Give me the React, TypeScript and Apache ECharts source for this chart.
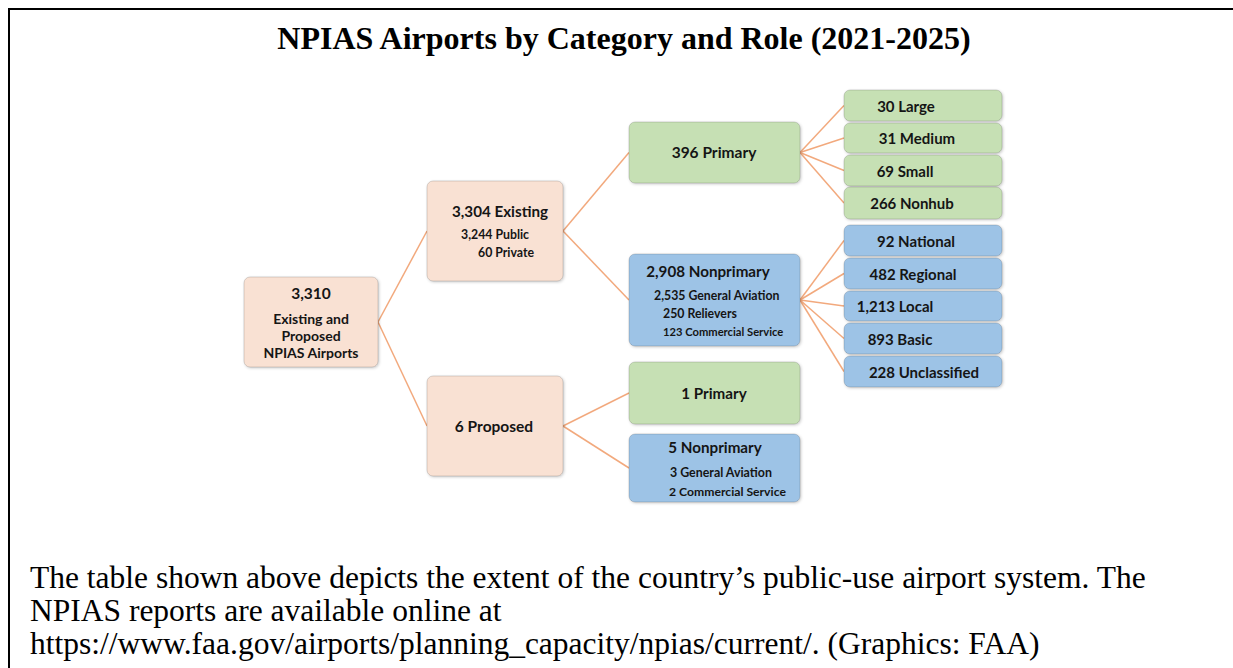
import React, { useEffect, useRef } from 'react';
import * as echarts from 'echarts';

const W = 1233;
const H = 668;

// ---------- data ----------
const titleText = 'NPIAS Airports by Category and Role (2021-2025)';
const captionLines = [
  'The table shown above depicts the extent of the country\u2019s public-use airport system. The',
  'NPIAS reports are available online at',
  'https://www.faa.gov/airports/planning_capacity/npias/current/. (Graphics: FAA)',
];

const nodeIds = [
  'root', 'existing', 'proposed', 'primary', 'nonprimary', 'proposedPrimary', 'proposedNonprimary',
  'large', 'medium', 'small', 'nonhub', 'national', 'regional', 'local', 'basic', 'unclassified',
];
const nodeCounts = [3310, 3304, 6, 396, 2908, 1, 5, 30, 31, 69, 266, 92, 482, 1213, 893, 228];
const nodeRoles = [
  'Existing and\nProposed\nNPIAS Airports', 'Existing', 'Proposed', 'Primary', 'Nonprimary', 'Primary', 'Nonprimary',
  'Large', 'Medium', 'Small', 'Nonhub', 'National', 'Regional', 'Local', 'Basic', 'Unclassified',
];
const nodeParents = [
  null, 'root', 'root', 'existing', 'existing', 'proposed', 'proposed',
  'primary', 'primary', 'primary', 'primary', 'nonprimary', 'nonprimary', 'nonprimary', 'nonprimary', 'nonprimary',
];
const nodeKinds = [
  'category', 'category', 'category', 'primary', 'nonprimary', 'primary', 'nonprimary',
  'primary', 'primary', 'primary', 'primary', 'nonprimary', 'nonprimary', 'nonprimary', 'nonprimary', 'nonprimary',
];

const existingSubRoles = ['Public', 'Private'];
const existingSubCounts = [3244, 60];
const nonprimarySubRoles = ['General Aviation', 'Relievers', 'Commercial Service'];
const nonprimarySubCounts = [2535, 250, 123];
const proposedNonprimarySubRoles = ['General Aviation', 'Commercial Service'];
const proposedNonprimarySubCounts = [3, 2];

const subItems: Record<string, { roles: string[]; counts: number[] }> = {
  existing: { roles: existingSubRoles, counts: existingSubCounts },
  nonprimary: { roles: nonprimarySubRoles, counts: nonprimarySubCounts },
  proposedNonprimary: { roles: proposedNonprimarySubRoles, counts: proposedNonprimarySubCounts },
};

// ---------- layout / style ----------
type Layout = {
  box: [number, number, number, number];
  label: [number, number];
  size: number;
  stackY?: number[];
  subX?: number[];
  subY?: number[];
  subSize?: number[];
};

const layout: Record<string, Layout> = {
  root: { box: [244, 277, 378, 367], label: [311, 293], size: 15.5, stackY: [318, 335, 352] },
  existing: { box: [427, 181, 563, 281], label: [500, 211], size: 15.2, subX: [461, 478], subY: [234, 252], subSize: [12.3, 12.3] },
  proposed: { box: [427, 376, 563, 476], label: [494, 426], size: 15.5 },
  primary: { box: [629, 122, 800, 183], label: [714, 152], size: 15.5 },
  nonprimary: { box: [629, 254, 800, 346], label: [708, 271], size: 15.2, subX: [654, 663, 663], subY: [295, 313, 331], subSize: [12.3, 12.3, 11.2] },
  proposedPrimary: { box: [629, 362, 800, 424], label: [714, 393], size: 15.2 },
  proposedNonprimary: { box: [629, 434, 800, 502], label: [715, 447], size: 15.2, subX: [670, 669], subY: [472, 491], subSize: [12.4, 12.2] },
  large: { box: [844, 90, 1002, 121], label: [906, 105.5], size: 15 },
  medium: { box: [844, 123, 1002, 153], label: [917, 138], size: 15 },
  small: { box: [844, 155, 1002, 186], label: [905, 170.5], size: 15 },
  nonhub: { box: [844, 187, 1002, 219], label: [912, 203], size: 15 },
  national: { box: [844, 225, 1002, 256], label: [916, 240.5], size: 15 },
  regional: { box: [844, 258, 1002, 289], label: [913, 273.5], size: 15 },
  local: { box: [844, 291, 1002, 321], label: [895, 306], size: 15 },
  basic: { box: [844, 323, 1002, 354], label: [900, 338.5], size: 15 },
  unclassified: { box: [844, 356, 1002, 387], label: [924, 371.5], size: 15 },
};

const kindFill: Record<string, string> = {
  category: '#f9e1d3',
  primary: '#c6e0b4',
  nonprimary: '#9dc3e6',
};

const FONT = 'Lato, "Open Sans", sans-serif';
const SERIF = '"Liberation Serif", "Times New Roman", serif';
const TEXT = '#151515';
const fmt = (n: number) => n.toLocaleString('en-US');

export default function App() {
  const ref = useRef<HTMLDivElement>(null);

  useEffect(() => {
    if (!ref.current) return;
    const chart = echarts.init(ref.current, null, { renderer: 'svg' });

    const boxData = nodeIds.map((id, i) => {
      const b = layout[id].box;
      return [b[0], b[1], b[2], b[3], i];
    });

    const linkData = nodeIds
      .map((id, i) => ({ id, parent: nodeParents[i] }))
      .filter((d) => d.parent)
      .map(({ id, parent }) => {
        const c = layout[id].box;
        const p = layout[parent as string].box;
        return { coords: [[p[2], (p[1] + p[3]) / 2], [c[0], (c[1] + c[3]) / 2]] };
      });

    const renderItem = (params: any, api: any) => {
      const i = api.value(4);
      const id = nodeIds[i];
      const L = layout[id];
      const p0 = api.coord([api.value(0), api.value(1)]);
      const p1 = api.coord([api.value(2), api.value(3)]);
      const children: any[] = [
        {
          type: 'rect',
          shape: { x: p0[0], y: p0[1], width: p1[0] - p0[0], height: p1[1] - p0[1], r: 6 },
          style: {
            fill: kindFill[nodeKinds[i]],
            stroke: 'rgba(0,0,0,0.14)',
            lineWidth: 1,
            shadowBlur: 3,
            shadowColor: 'rgba(0,0,0,0.22)',
            shadowOffsetX: 1,
            shadowOffsetY: 1,
          },
        },
      ];
      const lp = api.coord(L.label);
      if (L.stackY) {
        children.push({
          type: 'text',
          x: lp[0],
          y: lp[1],
          style: { text: fmt(nodeCounts[i]), font: `bold ${L.size}px ${FONT}`, fill: TEXT, align: 'center', verticalAlign: 'middle' },
        });
        nodeRoles[i].split('\n').forEach((line, k) => {
          const q = api.coord([L.label[0], L.stackY![k]]);
          children.push({
            type: 'text',
            x: q[0],
            y: q[1],
            style: { text: line, font: `bold 14px ${FONT}`, fill: TEXT, align: 'center', verticalAlign: 'middle' },
          });
        });
      } else {
        children.push({
          type: 'text',
          x: lp[0],
          y: lp[1],
          style: {
            text: `${fmt(nodeCounts[i])} ${nodeRoles[i]}`,
            font: `bold ${L.size}px ${FONT}`,
            fill: TEXT,
            align: 'center',
            verticalAlign: 'middle',
          },
        });
      }
      const sub = subItems[id];
      if (sub && L.subX && L.subY) {
        sub.roles.forEach((role, k) => {
          const q = api.coord([L.subX![k], L.subY![k]]);
          children.push({
            type: 'text',
            x: q[0],
            y: q[1],
            style: {
              text: `${fmt(sub.counts[k])} ${role}`,
              font: `bold ${L.subSize![k]}px ${FONT}`,
              fill: TEXT,
              align: 'left',
              verticalAlign: 'middle',
            },
          });
        });
      }
      return { type: 'group', children };
    };

    chart.setOption({
      animation: false,
      backgroundColor: '#ffffff',
      grid: { left: 0, right: 0, top: 0, bottom: 0 },
      xAxis: { type: 'value', min: 0, max: W, show: false },
      yAxis: { type: 'value', min: 0, max: H, inverse: true, show: false },
      graphic: [
        { type: 'line', shape: { x1: 8, y1: 9, x2: W, y2: 9 }, style: { stroke: '#000', lineWidth: 2 } },
        { type: 'line', shape: { x1: 9, y1: 8, x2: 9, y2: H }, style: { stroke: '#000', lineWidth: 2 } },
        {
          type: 'text',
          x: 624,
          y: 38,
          style: {
            text: titleText,
            font: `bold 32px ${SERIF}`,
            fill: '#000',
            align: 'center',
            verticalAlign: 'middle',
          },
        },
        ...captionLines.map((line, k) => ({
          type: 'text',
          x: 30,
          y: 577 + k * 33,
          style: {
            text: line,
            font: `31.5px ${SERIF}`,
            fill: '#000',
            align: 'left',
            verticalAlign: 'middle',
          },
        })),
      ],
      series: [
        {
          type: 'lines',
          coordinateSystem: 'cartesian2d',
          data: linkData,
          silent: true,
          z: 1,
          lineStyle: { color: '#f2a97d', width: 1.5, opacity: 1, type: 'solid' },
        },
        {
          type: 'custom',
          coordinateSystem: 'cartesian2d',
          data: boxData,
          encode: { x: [0, 2], y: [1, 3] },
          renderItem,
          silent: true,
          z: 2,
        },
      ],
    });

    return () => chart.dispose();
  }, []);

  return (
    <div
      ref={ref}
      style={{ position: 'fixed', left: 0, top: 0, width: W, height: H, background: '#fff' }}
    />
  );
}
